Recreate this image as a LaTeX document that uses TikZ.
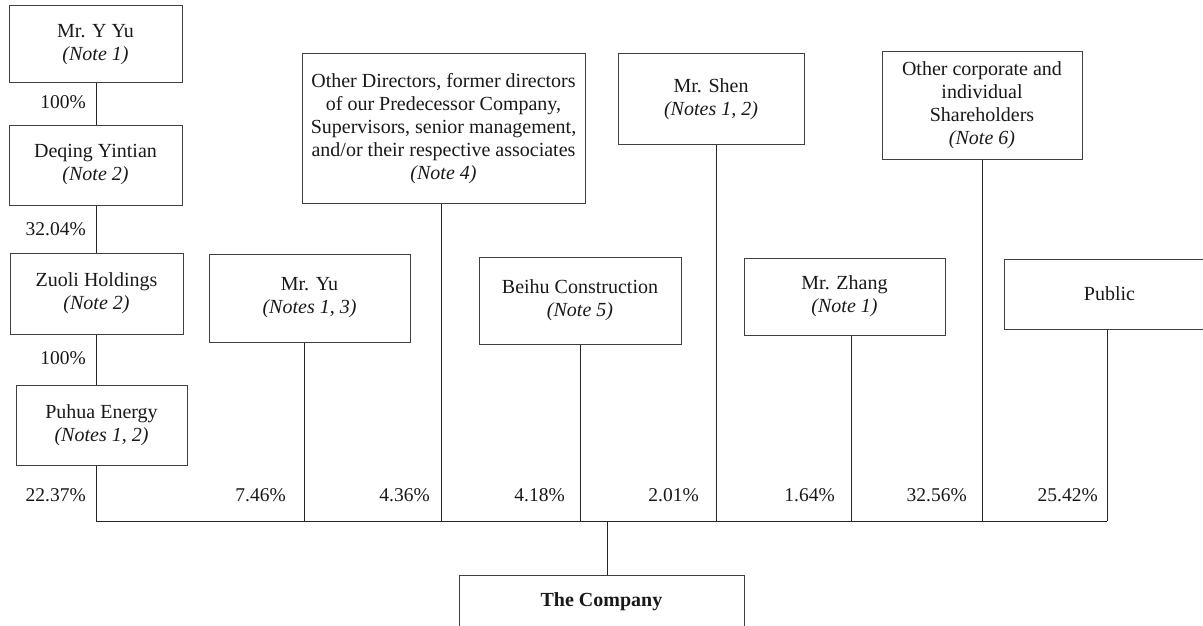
\documentclass[tikz,border=0pt]{standalone}
\usepackage{fontspec}
\setmainfont{Liberation Serif}
\begin{document}
\begin{tikzpicture}[x=1pt,y=1pt,
  every node/.style={font=\fontsize{20}{23}\selectfont, text=black!90},
  box/.style={draw=black!75, line width=1pt, inner sep=0pt, align=center, rectangle},
  conn/.style={draw=black!85, line width=1pt},
  pct/.style={anchor=east, inner sep=0pt, font=\fontsize{19.5}{23}\selectfont}]
\useasboundingbox (0,0) rectangle (1203,-626);
\clip (0,0) rectangle (1203,-626);
% boxes
\node[box, minimum width=173pt, minimum height=77pt] (yyu) at (95.5,-44.5) {Mr. Y Yu\\\textit{(Note 1)}};
\node[box, minimum width=173pt, minimum height=80pt] (deqing) at (95.5,-165) {Deqing Yintian\\\textit{(Note 2)}};
\node[box, minimum width=173pt, minimum height=81pt] (zuoli) at (96.5,-293.5) {Zuoli Holdings\\\textit{(Note 2)}};
\node[box, minimum width=171pt, minimum height=80pt] (puhua) at (101.5,-425) {Puhua Energy\\\textit{(Notes 1, 2)}};
\node[box, minimum width=201pt, minimum height=88pt] (mryu) at (309.5,-298) {Mr. Yu\\\textit{(Notes 1, 3)}};
\node[box, minimum width=283pt, minimum height=149pt] (others) at (443.5,-128.5) {Other Directors, former directors\\of our Predecessor Company,\\Supervisors, senior management,\\and/or their respective associates\\\textit{(Note 4)}};
\node[box, minimum width=202pt, minimum height=87pt] (beihu) at (580,-300.5) {Beihu Construction\\\textit{(Note 5)}};
\node[box, minimum width=186pt, minimum height=90pt] (shen) at (711,-99) {Mr. Shen\\\textit{(Notes 1, 2)}};
\node[box, minimum width=201pt, minimum height=77pt] (zhang) at (844.5,-296.5) {Mr. Zhang\\\textit{(Note 1)}};
\node[box, minimum width=200pt, minimum height=107pt] (corp) at (982,-105.5) {Other corporate and\\individual\\Shareholders\\\textit{(Note 6)}};
\node[box, minimum width=211pt, minimum height=70pt] (public) at (1109.5,-294) {Public};
\node[box, anchor=north, minimum width=285pt, text height=31pt, text depth=40pt, font=\fontsize{20}{23}\selectfont\bfseries] (company) at (601.5,-575) {The Company};
% bus coordinates
\coordinate (b0) at (96,-521);
\coordinate (b1) at (304,-521);
\coordinate (b2) at (441,-521);
\coordinate (b3) at (580,-521);
\coordinate (b4) at (716,-521);
\coordinate (b5) at (851,-521);
\coordinate (b6) at (982,-521);
\coordinate (b7) at (1107,-521);
\coordinate (bc) at (607,-521);
% chain
\draw[conn] (b0 |- yyu.south) -- (b0 |- deqing.north);
\draw[conn] (b0 |- deqing.south) -- (b0 |- zuoli.north);
\draw[conn] (b0 |- zuoli.south) -- (b0 |- puhua.north);
\draw[conn] (b0 |- puhua.south) -- (b0);
\draw[conn] (b1 |- mryu.south) -- (b1);
\draw[conn] (b2 |- others.south) -- (b2);
\draw[conn] (b3 |- beihu.south) -- (b3);
\draw[conn] (b4 |- shen.south) -- (b4);
\draw[conn] (b5 |- zhang.south) -- (b5);
\draw[conn] (b6 |- corp.south) -- (b6);
\draw[conn] (b7 |- public.south) -- (b7);
\draw[conn] (b0) -- (b7);
\draw[conn] (bc) -- (bc |- company.north);
% percentages
\node[pct] (p1) at (86,-102) {100\%};
\node[pct] (p2) at (86,-229) {32.04\%};
\node[pct] (p3) at (86,-358) {100\%};
\node[pct] (p4) at (86,-495) {22.37\%};
\node[pct] (p5) at (286,-495) {7.46\%};
\node[pct] (p6) at (430,-495) {4.36\%};
\node[pct] (p7) at (565,-495) {4.18\%};
\node[pct] (p8) at (699,-495) {2.01\%};
\node[pct] (p9) at (835,-495) {1.64\%};
\node[pct] (p10) at (967,-495) {32.56\%};
\node[pct] (p11) at (1098,-495) {25.42\%};
\end{tikzpicture}
\end{document}
